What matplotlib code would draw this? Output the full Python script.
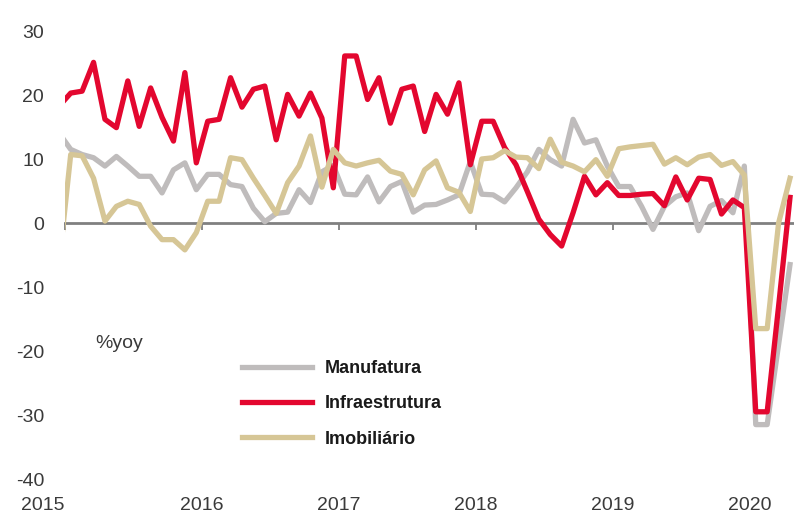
import numpy as np
import matplotlib.pyplot as plt
from matplotlib.lines import Line2D

plt.rcParams['font.family'] = ['Liberation Sans', 'DejaVu Sans']
plt.rcParams['axes.unicode_minus'] = False

# monthly %yoy, Dec 2014 .. Apr 2020 (first point sits just left of the axis and is clipped)
manufatura = [14.0,
              11.5, 10.7, 10.2, 8.9, 10.4, 8.9, 7.3, 7.3, 4.7, 8.3, 9.4, 5.2,
              7.6, 7.6, 6.0, 5.7, 2.3, 0.2, 1.5, 1.7, 5.2, 3.2, 8.0, 9.0,
              4.5, 4.4, 7.2, 3.3, 5.7, 6.5, 1.7, 2.8, 2.9, 3.6, 4.4, 9.6,
              4.5, 4.4, 3.3, 5.5, 8.0, 11.5, 9.9, 8.9, 16.2, 12.5, 13.0, 8.9,
              5.7, 5.7, 2.6, -1.0, 2.6, 4.1, 4.7, -1.2, 2.6, 3.5, 1.6, 8.9,
              -31.5, -31.5, -19.0, -6.5]
infraestrutura = [18.3,
                  20.3, 20.6, 25.1, 16.2, 14.9, 22.2, 15.1, 21.1, 16.5, 12.8, 23.5, 9.4,
                  15.9, 16.2, 22.7, 18.1, 20.9, 21.4, 13.0, 20.1, 16.7, 20.3, 16.4, 5.5,
                  26.1, 26.1, 19.3, 22.7, 15.6, 20.9, 21.4, 14.3, 20.1, 17.0, 21.9, 9.1,
                  15.9, 15.9, 11.8, 9.1, 4.9, 0.6, -1.8, -3.6, 1.6, 7.3, 4.4, 6.3,
                  4.3, 4.3, 4.5, 4.6, 2.7, 7.2, 3.6, 7.0, 6.8, 1.4, 3.6, 2.4,
                  -29.5, -29.5, -13.0, 4.0]
imobiliario = [-6.0,
               10.7, 10.5, 7.0, 0.3, 2.6, 3.4, 2.9, -0.5, -2.6, -2.6, -4.2, -1.5,
               3.4, 3.4, 10.2, 9.9, 7.0, 4.3, 1.5, 6.3, 8.9, 13.6, 5.6, 11.5,
               9.4, 8.9, 9.4, 9.8, 8.1, 7.6, 4.4, 8.3, 9.7, 5.5, 4.8, 1.8,
               10.0, 10.2, 11.3, 10.3, 10.2, 8.5, 13.1, 9.5, 8.9, 8.0, 9.9, 7.3,
               11.6, 11.9, 12.1, 12.3, 9.2, 10.2, 9.1, 10.3, 10.7, 9.0, 9.6, 7.5,
               -16.5, -16.5, 0.0, 7.0]
anos = ['2015', '2016', '2017', '2018', '2019', '2020']

cinza = '#BFBCBC'
vermelho = '#E3072F'
bege = '#D6C696'
texto = '#3a3a3a'

x = np.arange(len(manufatura)) - 0.5  # mid-month positions, Jan 2015 = 0.5

fig = plt.figure(figsize=(7.94, 5.19), dpi=100)
ax = fig.add_axes([65 / 794, 40 / 519, 729 / 794, 448 / 519])

ax.plot(x, manufatura, color=cinza, lw=3.8, solid_joinstyle='round')
ax.plot(x, infraestrutura, color=vermelho, lw=3.8, solid_joinstyle='round')
ax.plot(x, imobiliario, color=bege, lw=3.8, solid_joinstyle='round')

ax.set_xlim(0, 63.85)
ax.set_ylim(-40, 30)

for s in ['top', 'right', 'left']:
    ax.spines[s].set_visible(False)
ax.spines['bottom'].set_position(('data', 0))
ax.spines['bottom'].set_color('#808080')
ax.spines['bottom'].set_linewidth(2)
ax.spines['bottom'].set_zorder(0.5)

ticks = np.arange(len(anos)) * 12
ax.set_xticks(ticks)
ax.tick_params(axis='x', direction='out', length=5, width=1.3, color='#808080',
               labelbottom=False)

ax.set_yticks(range(-40, 31, 10))
ax.set_yticklabels([str(v) for v in range(-40, 31, 10)])
ax.tick_params(axis='y', length=0, pad=15, labelsize=14, labelcolor=texto)

sec = ax.secondary_xaxis(0)
sec.set_xticks(ticks)
sec.set_xticklabels(anos)
sec.spines['bottom'].set_visible(False)
sec.tick_params(axis='x', length=0, pad=13, labelsize=14, labelcolor=texto)
sec.get_xticklabels()[0].set_ha('right')

ax.text(30 / 729, (479 - 343) / 448, '%yoy', transform=ax.transAxes,
        fontsize=14, color=texto, va='center', ha='left')

handles = [Line2D([], [], color=cinza, lw=3.8),
           Line2D([], [], color=vermelho, lw=3.8),
           Line2D([], [], color=bege, lw=3.8)]
leg = fig.legend(handles, ['Manufatura', 'Infraestrutura', 'Imobiliário'],
                 loc='center left', bbox_to_anchor=(242 / 794, 1 - 404 / 519),
                 frameon=False, borderpad=0, borderaxespad=0,
                 handlelength=3.9, handletextpad=0.7, labelspacing=1.0,
                 prop={'weight': 'bold', 'size': 13})
for t in leg.get_texts():
    t.set_color('#1a1a1a')

fig.savefig('out.png', dpi=100)
